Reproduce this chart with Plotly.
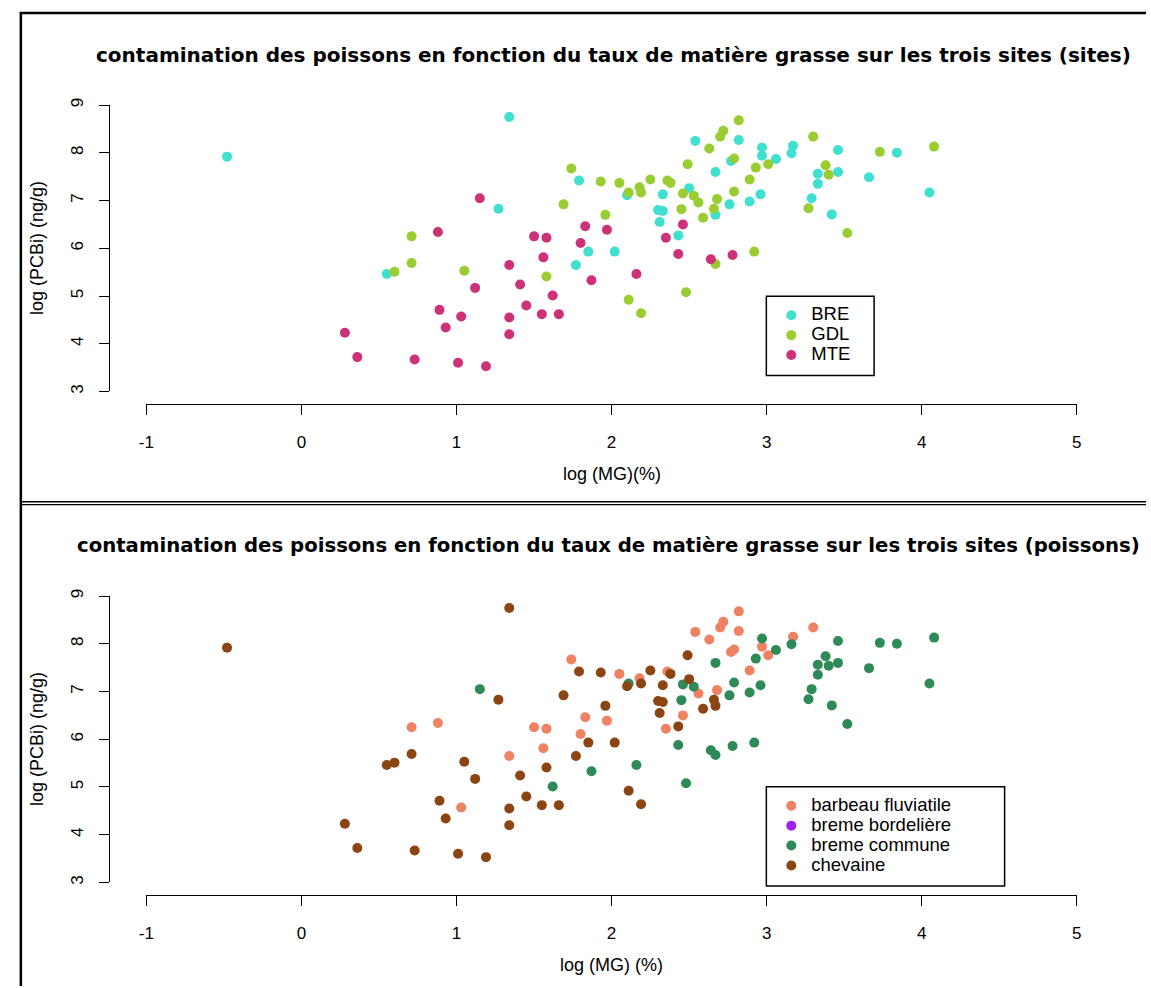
import plotly.graph_objects as go

W, H = 1151, 988

# ---------------- data ----------------
# site BRE
bre_log_mg = [-0.48, 0.55, 1.34, 1.27, 1.79, 1.85, 2.02, 1.77, 2.10, 2.33, 2.30, 2.33, 2.31,
              2.43, 2.50, 2.54, 2.82, 2.97, 2.97, 3.06, 2.77, 2.67, 2.76, 2.89, 2.96, 2.67,
              3.17, 3.16, 3.46, 3.84, 3.33, 3.46, 3.66, 3.33, 3.29, 3.42, 4.05]
bre_log_pcbi = [7.92, 5.46, 8.75, 6.83, 7.42, 5.93, 5.93, 5.65, 7.11, 7.13, 6.80, 6.78, 6.55,
                6.27, 7.26, 8.25, 8.27, 8.11, 7.94, 7.87, 7.83, 7.60, 6.92, 6.98, 7.13, 6.70,
                8.15, 7.99, 8.06, 8.00, 7.56, 7.60, 7.49, 7.35, 7.05, 6.71, 7.17]
bre_fish = ["CH", "CH", "CH", "CH", "CH", "CH", "CH", "CH", "CH", "CH", "CH", "CH", "CH",
            "CH", "CH", "BF", "BF", "BC", "BF", "BC", "BF", "BC", "BC", "BC", "BC", "CH",
            "BF", "BC", "BC", "BC", "BC", "BC", "BC", "BC", "BC", "BC", "BC"]

# site GDL
gdl_log_mg = [0.71, 0.71, 0.60, 1.05, 1.58, 1.69, 1.74, 1.93, 1.96, 2.05, 2.18, 2.11, 2.19,
              2.25, 2.36, 2.38, 2.46, 2.53, 2.56, 2.68, 2.79, 2.66, 2.59, 2.45, 2.49, 2.63,
              2.72, 2.70, 2.82, 2.79, 2.93, 3.01, 2.89, 2.67, 2.92, 2.48, 2.11, 2.19, 3.30,
              3.73, 4.08, 3.38, 3.40, 3.27, 3.52]
gdl_log_pcbi = [6.25, 5.69, 5.51, 5.53, 5.41, 6.92, 7.67, 7.40, 6.70, 7.37, 7.28, 7.17, 7.17,
                7.44, 7.42, 7.37, 7.15, 7.10, 6.96, 7.03, 7.19, 6.83, 6.64, 6.82, 7.76, 8.09,
                8.46, 8.34, 8.68, 7.88, 7.69, 7.76, 7.44, 5.67, 5.93, 5.08, 4.92, 4.64, 8.34,
                8.02, 8.13, 7.74, 7.54, 6.84, 6.32]
gdl_fish = ["BF", "CH", "CH", "CH", "CH", "CH", "BF", "CH", "CH", "BF", "BF", "BC", "CH",
            "CH", "BF", "CH", "BC", "BC", "BF", "BF", "BC", "CH", "CH", "BC", "CH", "BF",
            "BF", "BF", "BF", "BF", "BC", "BF", "BF", "BC", "BC", "BC", "CH", "CH", "BF",
            "BC", "BC", "BC", "BC", "BC", "BC"]

# site MTE
mte_log_mg = [1.15, 0.88, 1.12, 0.89, 1.03, 0.93, 0.28, 0.36, 0.73, 1.01, 1.19, 1.83, 1.97,
              1.80, 1.50, 1.58, 1.56, 1.34, 1.87, 2.16, 1.41, 1.62, 1.45, 1.55, 1.66, 1.34,
              1.34, 2.46, 2.35, 2.43, 2.64, 2.78]
mte_log_pcbi = [7.05, 6.34, 5.17, 4.71, 4.57, 4.34, 4.23, 3.72, 3.67, 3.60, 3.53, 6.46, 6.39,
                6.11, 6.25, 6.22, 5.81, 5.65, 5.33, 5.46, 5.24, 5.01, 4.80, 4.62, 4.62, 4.55,
                4.20, 6.50, 6.22, 5.88, 5.77, 5.86]
mte_fish = ["BC", "BF", "CH", "CH", "BF", "CH", "CH", "CH", "CH", "CH", "CH", "BF", "BF",
            "BF", "BF", "BF", "BF", "BF", "BC", "BC", "CH", "BC", "CH", "CH", "CH", "CH",
            "CH", "BF", "BF", "BC", "BC", "BC"]

site_names = ["BRE", "GDL", "MTE"]
site_colors = ["#40E0D0", "#9ACD32", "#CD3278"]

species_codes = ["BF", "BB", "BC", "CH"]
species_names = ["barbeau fluviatile", "breme bordelière", "breme commune", "chevaine"]
species_colors = ["#EE8262", "#A020F0", "#2E8B57", "#8B4513"]

x_tickvals = [-1, 0, 1, 2, 3, 4, 5]
x_ticktext = ["-1", "0", "1", "2", "3", "4", "5"]
y_tickvals = [3, 4, 5, 6, 7, 8, 9]
y_ticktext = ["3", "4", "5", "6", "7", "8", "9"]

title_top = "contamination des poissons en fonction du taux de matière grasse sur les trois sites (sites)"
title_bottom = "contamination des poissons en fonction du taux de matière grasse sur les trois sites (poissons)"
xlab_top = "log (MG)(%)"
xlab_bottom = "log (MG) (%)"
ylab = "log (PCBi) (ng/g)"

# ---------------- helpers ----------------
def px(x):
    return x / W


def py(y):
    return 1 - y / H


FONT = "Liberation Sans, Arial, sans-serif"
TITLE_FONT = "DejaVu Sans, Liberation Sans, sans-serif"

all_x = bre_log_mg + gdl_log_mg + mte_log_mg
all_y = bre_log_pcbi + gdl_log_pcbi + mte_log_pcbi
all_site = ["BRE"] * len(bre_log_mg) + ["GDL"] * len(gdl_log_mg) + ["MTE"] * len(mte_log_mg)
all_fish = bre_fish + gdl_fish + mte_fish

fig = go.Figure()


def legend_name(s):
    return '<span style="font-size:18.5px">' + s + '</span>'


for s, c in zip(site_names, site_colors):
    xs = [x for x, ss in zip(all_x, all_site) if ss == s]
    ys = [y for y, ss in zip(all_y, all_site) if ss == s]
    fig.add_trace(go.Scatter(x=xs, y=ys, mode="markers", name=legend_name(s),
                             marker=dict(color=c, size=10, line=dict(width=0)),
                             xaxis="x", yaxis="y", legend="legend"))

for code, nm, c in zip(species_codes, species_names, species_colors):
    xs = [x for x, f in zip(all_x, all_fish) if f == code]
    ys = [y for y, f in zip(all_y, all_fish) if f == code]
    if not xs:  # species listed in the legend but with no measured fish
        xs, ys = [None], [None]
    fig.add_trace(go.Scatter(x=xs, y=ys, mode="markers", name=legend_name(nm),
                             marker=dict(color=c, size=10, line=dict(width=0)),
                             xaxis="x2", yaxis="y2", legend="legend2"))

axis_common = dict(showline=True, linecolor="black", linewidth=1, ticks="outside",
                   ticklen=10, tickwidth=1, tickcolor="black", showgrid=False,
                   zeroline=False, anchor="free",
                   tickfont=dict(family=FONT, size=17, color="black"))

xdom = [px(140), px(1081)]
fig.update_layout(
    width=W, height=H, margin=dict(l=0, r=0, t=0, b=0),
    paper_bgcolor="white", plot_bgcolor="white",
    showlegend=True,
    xaxis=dict(domain=xdom, range=[-1, 5], position=py(400.5),
               tickvals=x_tickvals, ticktext=x_ticktext, ticklabelstandoff=13, **axis_common),
    yaxis=dict(domain=[py(388), py(99)], range=[3, 9], position=px(101.7),
               tickvals=y_tickvals, ticktext=y_ticktext, tickangle=-90,
               ticklabelstandoff=9, **axis_common),
    xaxis2=dict(domain=xdom, range=[-1, 5], position=py(896),
                tickvals=x_tickvals, ticktext=x_ticktext, ticklabelstandoff=13, **axis_common),
    yaxis2=dict(domain=[py(883.5), py(594.5)], range=[3, 9], position=px(101.7),
                tickvals=y_tickvals, ticktext=y_ticktext, tickangle=-90,
                ticklabelstandoff=9, **axis_common),
    legend=dict(x=px(772), y=py(296), xanchor="left", yanchor="top",
                bgcolor="rgba(0,0,0,0)", borderwidth=0,
                font=dict(family=FONT, size=13, color="black")),
    legend2=dict(x=px(772), y=py(791), xanchor="left", yanchor="top",
                 bgcolor="rgba(0,0,0,0)", borderwidth=0,
                 font=dict(family=FONT, size=13, color="black")),
)

annotations = [
    dict(text=title_top, x=px(612), y=py(48), xref="paper", yref="paper",
         xanchor="center", yanchor="middle", showarrow=False,
         font=dict(family=TITLE_FONT, size=20, color="black", weight="bold")),
    dict(text=title_bottom, x=px(607), y=py(543), xref="paper", yref="paper",
         xanchor="center", yanchor="middle", showarrow=False,
         font=dict(family=TITLE_FONT, size=19.7, color="black", weight="bold")),
    dict(text=xlab_top, x=px(610.5), y=py(471), xref="paper", yref="paper",
         xanchor="center", yanchor="middle", showarrow=False,
         font=dict(family=FONT, size=18, color="black")),
    dict(text=xlab_bottom, x=px(610.5), y=py(967), xref="paper", yref="paper",
         xanchor="center", yanchor="middle", showarrow=False,
         font=dict(family=FONT, size=18, color="black")),
    dict(text=ylab, x=px(30), y=py(243.5), xref="paper", yref="paper", textangle=-90,
         xanchor="center", yanchor="middle", showarrow=False,
         font=dict(family=FONT, size=18, color="black")),
    dict(text=ylab, x=px(30), y=py(739), xref="paper", yref="paper", textangle=-90,
         xanchor="center", yanchor="middle", showarrow=False,
         font=dict(family=FONT, size=18, color="black")),
]
fig.update_layout(annotations=annotations)

shapes = [
    # outer frame: top and left
    dict(type="line", xref="paper", yref="paper", x0=px(12), x1=px(1151), y0=py(6), y1=py(6),
         line=dict(color="black", width=2.5)),
    dict(type="line", xref="paper", yref="paper", x0=px(13), x1=px(13), y0=py(5), y1=py(988),
         line=dict(color="black", width=2.5)),
    # double separator between the two panels
    dict(type="line", xref="paper", yref="paper", x0=px(13), x1=px(1151), y0=py(499.3), y1=py(499.3),
         line=dict(color="black", width=1.3)),
    dict(type="line", xref="paper", yref="paper", x0=px(13), x1=px(1151), y0=py(502.3), y1=py(502.3),
         line=dict(color="black", width=1.3)),
    # legend boxes
    dict(type="rect", xref="paper", yref="paper", x0=px(767), x1=px(876), y0=py(292), y1=py(372),
         line=dict(color="black", width=1.5), fillcolor="rgba(0,0,0,0)"),
    dict(type="rect", xref="paper", yref="paper", x0=px(767), x1=px(1008), y0=py(787), y1=py(887),
         line=dict(color="black", width=1.5), fillcolor="rgba(0,0,0,0)"),
]
fig.update_layout(shapes=shapes)

fig.write_html("out.html", config={"displayModeBar": False},
               post_script="document.body.style.margin='0px';")
